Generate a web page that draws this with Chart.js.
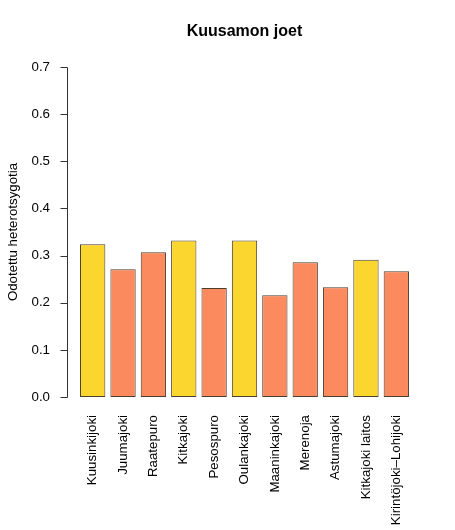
<!DOCTYPE html>
<html lang="fi">
<head>
  <meta charset="UTF-8" />
  <title>Kuusamon joet</title>
  <script src="https://cdn.jsdelivr.net/npm/chart.js"></script>
  <style>
    body {
      margin: 0;
      background: #fff;
    }
    .chart-box {
      width: 455px;
      height: 530px;
    }
  </style>
</head>
<body>
  <div class="chart-box"><canvas id="riverChart" width="455" height="530"></canvas></div>

  <script>
    const rivers = ["Kuusinkijoki", "Juumajoki", "Raatepuro", "Kitkajoki", "Pesospuro", "Oulankajoki",
                    "Maaninkajoki", "Merenoja", "Astumajoki", "Kitkajoki laitos", "Kirintöjoki–Lohijoki"];
    const heterozygosity = [0.324, 0.271, 0.307, 0.332, 0.231, 0.332, 0.216, 0.286, 0.233, 0.291, 0.267];
    // yellow bars vs orange bars
    const yellowGroup = [true, false, false, true, false, true, false, false, false, true, false];
    const yTicks = [0, 0.1, 0.2, 0.3, 0.4, 0.5, 0.6, 0.7];

    const YELLOW = "#fbd62f";
    const ORANGE = "#fb8a5f";
    const FONT = "'Liberation Sans', Arial, sans-serif";

    // R-style detached y axis line with ticks on the outside
    const rAxis = {
      id: "rAxis",
      afterDraw(chart) {
        const { ctx, chartArea } = chart;
        const y = chart.scales.y;
        const catWidth = (chartArea.right - chartArea.left) / rivers.length;
        const ax = Math.round(chartArea.left - 0.35 * catWidth) + 0.5;
        ctx.save();
        ctx.strokeStyle = "#333";
        ctx.lineWidth = 1;
        ctx.beginPath();
        ctx.moveTo(ax, Math.round(y.getPixelForValue(yTicks[0])) + 0.5);
        ctx.lineTo(ax, Math.round(y.getPixelForValue(yTicks[yTicks.length - 1])) + 0.5);
        yTicks.forEach(v => {
          const py = Math.round(y.getPixelForValue(v)) + 0.5;
          ctx.moveTo(ax - 7, py);
          ctx.lineTo(ax, py);
        });
        ctx.stroke();
        ctx.restore();
      }
    };

    new Chart(document.getElementById("riverChart"), {
      type: "bar",
      data: {
        labels: rivers,
        datasets: [{
          data: heterozygosity,
          backgroundColor: yellowGroup.map(g => g ? YELLOW : ORANGE),
          borderColor: "#4a3d2c",
          borderWidth: 1,
          borderSkipped: false,
          categoryPercentage: 1,
          barPercentage: 1 / 1.2
        }]
      },
      options: {
        responsive: false,
        animation: false,
        layout: { padding: { left: 0, right: 43.5, top: 0, bottom: 0 } },
        plugins: {
          legend: { display: false },
          tooltip: { enabled: false },
          title: {
            display: true,
            text: "Kuusamon joet",
            fullSize: false,
            color: "#000",
            font: { family: FONT, size: 16, weight: "bold" },
            padding: { top: 22, bottom: 25.8 }
          }
        },
        scales: {
          x: {
            grid: { display: false, drawTicks: false },
            border: { display: false },
            ticks: {
              autoSkip: false,
              minRotation: 90,
              maxRotation: 90,
              padding: 18,
              color: "#000",
              font: { family: FONT, size: 13.3 }
            },
            afterFit(scale) { scale.height = 133; }
          },
          y: {
            min: 0,
            max: 0.7,
            grid: { display: false, drawTicks: false },
            border: { display: false },
            afterBuildTicks(scale) { scale.ticks = yTicks.map(v => ({ value: v })); },
            ticks: {
              padding: 27.5,
              color: "#000",
              font: { family: FONT, size: 13.3 },
              callback: v => v.toFixed(1)
            },
            title: {
              display: true,
              text: "Odotettu heterotsygotia",
              color: "#000",
              font: { family: FONT, size: 13.3 },
              padding: { top: 5.5, bottom: 0 }
            },
            afterFit(scale) { scale.width = 77.5; }
          }
        }
      },
      plugins: [rAxis]
    });
  </script>
</body>
</html>
